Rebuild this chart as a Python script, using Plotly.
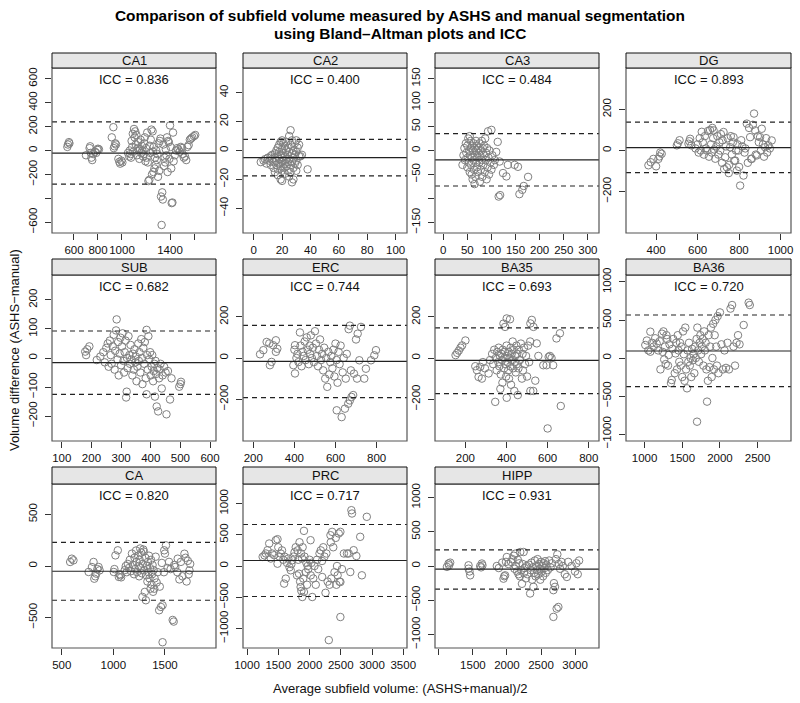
import plotly.graph_objects as go

# ---------------- data ----------------
panels = ["CA1", "CA2", "CA3", "DG", "SUB", "ERC", "BA35", "BA36", "CA", "PRC", "HIPP"]
icc_values = ["0.836", "0.400", "0.484", "0.893", "0.682", "0.744", "0.693", "0.720", "0.820", "0.717", "0.931"]
mean_diff = [-22, -4.9, -19.5, 14, -16, -16, -12, 92, -51, 88, -47]
upper_loa = [240, 7.7, 35, 138, 93, 158, 146, 566, 229, 664, 235]
lower_loa = [-281, -17.6, -74, -108, -125, -192, -173, -377, -332, -488, -339]

ca1_pts = [(545,30),(550,50),(558,70),(562,60),
 (700,-40),(730,20),(735,35),(740,-20),(745,-60),(752,-80),(760,-30),(775,-10),(785,-20),(795,5),(800,15),(808,10),
 (915,110),(928,195),(932,20),(938,35),(944,60),(950,50),
 (970,-70),(978,-95),(985,-110),(995,-85),(1003,-100),
 (1050,-20),(1060,-50),(1065,0),(1070,-30),(1075,-60),(1080,80),(1085,30),(1090,140),(1095,-10),(1100,180),(1105,110),
 (1110,160),(1115,50),(1120,130),(1125,-40),(1130,20),(1135,70),(1140,0),(1145,-70),(1150,10),(1155,90),(1160,-20),
 (1165,40),(1170,0),(1175,-50),(1180,-30),(1185,60),(1190,110),(1195,-90),(1200,20),(1205,-60),(1210,150),(1215,-100),
 (1220,-255),(1228,-245),(1230,40),(1235,-20),(1240,90),(1245,175),(1250,-200),(1255,160),(1258,-10),(1262,-180),
 (1265,30),(1270,-150),(1275,-60),(1280,-120),(1285,0),(1290,-80),(1295,-30),(1300,-220),(1305,60),(1310,-170),
 (1315,80),(1320,100),(1325,-385),(1330,-623),(1335,-350),(1340,-410),(1345,50),(1350,-130),(1355,-60),(1360,-100),
 (1365,10),(1370,-40),(1375,110),(1380,-180),(1385,80),(1390,70),(1395,-70),(1400,210),(1405,30),(1410,-150),
 (1414,-440),(1420,-435),(1425,150),(1430,-90),(1440,-40),(1450,0),(1460,20),(1470,10),(1480,-10),(1490,30),
 (1500,20),(1505,-30),(1515,-60),(1525,-50),(1535,-80),(1545,30),(1555,45),(1565,90),(1575,100),(1585,110),
 (1600,120),(1610,130)]

ca2_pts = [(5,-8),(7,-7),(8,-6),(9,-9),(10,-5),(11,-7),(12,-4),(12,-10),(13,-3),(13,-6),(14,-8),(14,-12),(15,-2),
 (15,-5),(15,-15),(16,0),(16,-7),(16,-10),(17,2),(17,-4),(17,-13),(17,-17),(18,4),(18,-1),(18,-6),(18,-9),(19,6),
 (19,-3),(19,-11),(19,-20),(20,7),(20,1),(20,-5),(20,-8),(20,-14),(20,-21),(21,5),(21,-2),(21,-7),(21,-12),(22,3),
 (22,-4),(22,-9),(22,-16),(23,6),(23,0),(23,-6),(23,-11),(24,2),(24,-3),(24,-8),(24,-14),(25,10),(25,-1),(25,-6),
 (25,-18),(26,14),(26,4),(26,-10),(26,-15),(27,7),(27,-2),(27,-8),(27,-22),(28,0),(28,-5),(28,-12),(28,-20),(29,5),
 (29,-3),(29,-9),(30,7),(30,-1),(30,-7),(30,-14),(31,2),(31,-10),(32,4),(32,-4),(33,-4),(34,-3),(38,-13)]

ca3_pts = [(40,-30),(42,-10),(44,5),(45,-20),(47,15),(48,-5),(50,10),(50,-35),(51,-15),(52,25),(53,-25),(54,0),
 (55,30),(55,-45),(56,-10),(57,20),(58,-30),(58,5),(59,-50),(60,-15),(60,10),(61,-60),(62,0),(63,-20),(63,15),
 (64,-40),(65,5),(65,-70),(66,-10),(67,-55),(68,20),(68,-25),(69,0),(70,-35),(70,10),(71,-15),(72,-45),(73,5),
 (74,-5),(75,-25),(75,15),(76,-65),(77,-10),(78,-40),(79,0),(80,20),(80,-20),(81,-55),(82,5),(83,-30),(84,-10),
 (85,10),(86,-45),(87,25),(88,-20),(89,-5),(90,-60),(91,5),(92,-35),(94,-15),(95,-50),(96,0),(98,-25),(100,-40),
 (102,-10),(105,-30),(107,-20),(93,40),(100,43),(110,-3),(113,18),(117,-23),(124,-47),(131,-54),(134,-30),
 (148,-30),(155,-34),(115,-96),(118,-93),(158,-91),(164,-82),(167,-74),(176,-55)]

dg_pts = [(363,-72),(374,-57),(387,-41),(400,-77),(411,-41),(416,-29),(427,-16),(420,-10),
 (500,25),(505,35),(513,50),(556,33),(560,45),(564,57),(570,25),
 (590,10),(600,30),(605,-10),(610,60),(615,0),(620,91),(625,40),(630,-20),(635,70),(640,10),(645,0),(650,95),
 (655,-30),(660,100),(665,30),(668,-10),(671,110),(675,60),(677,98),(680,5),(685,-40),(690,20),(695,70),(700,-20),
 (705,40),(709,0),(712,80),(718,-60),(720,50),(725,90),(728,-90),(733,-33),(736,20),(741,-82),(745,60),(750,-110),
 (752,-70),(757,16),(760,70),(765,-20),(770,40),(773,65),(776,-50),(781,-49),(785,0),(789,-98),(792,30),(797,0),
 (800,-80),(805,-171),(810,50),(815,20),(821,-122),(826,-10),(830,10),(837,131),(842,-60),(848,110),(853,65),
 (858,-40),(861,-41),(866,125),(872,180),(877,98),(880,-20),(885,-24),(890,70),(895,40),(901,65),(905,0),
 (909,106),(915,30),(920,-30),(925,16),(930,60),(935,-10),(941,25),(948,10),(957,49)]

sub_pts = [(179,22),(182,10),(186,30),(193,40),(218,-7),(230,5),(240,20),(245,-15),(250,35),(255,50),(258,-30),
 (262,60),(265,10),(268,-20),(272,40),(275,80),(278,-40),(280,25),(283,95),(285,133),(288,-5),(290,55),(292,-60),
 (295,15),(298,70),(300,-25),(303,40),(305,85),(308,-10),(310,-50),(312,20),(315,60),(317,-136),(319,-116),(320,0),
 (322,-35),(325,75),(328,10),(330,-20),(332,45),(335,-5),(338,-60),(340,15),(343,-40),(345,30),(348,-15),(350,5),
 (352,-80),(355,-30),(358,50),(360,-10),(362,20),(365,-50),(368,65),(370,0),(372,-90),(375,35),(378,-20),(380,55),
 (383,-70),(386,97),(386,-125),(388,10),(390,-40),(392,75),(395,-5),(398,20),(400,-60),(403,-30),(405,10),
 (408,-80),(410,-45),(412,-20),(414,-133),(416,-10),(418,-55),(420,-167),(422,-35),(425,-184),(428,-70),(430,-40),
 (433,-20),(437,-105),(440,-60),(445,-30),(450,-50),(453,-194),(458,-45),(465,-143),(470,-70),(496,-99),(500,-90),
 (502,-82)]

erc_pts = [(233,18),(249,38),(265,78),(278,71),(281,-35),(289,-19),(297,62),(310,86),(317,45),(310,30),
 (395,-35),(400,40),(403,62),(403,-75),(410,0),(415,20),(420,-20),(427,124),(430,60),(435,-40),(440,30),(445,10),
 (450,80),(455,-10),(460,100),(465,40),(470,-30),(475,60),(476,20),(480,110),(485,0),(490,50),(495,-20),(500,130),
 (505,70),(510,10),(515,-40),(520,40),(525,90),(530,-10),(535,20),(540,-60),(545,50),(550,-100),(555,0),(560,-140),
 (565,30),(570,-80),(575,-20),(580,10),(585,-50),(590,40),(595,-90),(600,70),(605,-10),(606,-254),(610,-120),
 (615,30),(620,-30),(625,60),(630,-287),(635,-70),(640,0),(646,-246),(650,-100),(655,20),(662,-222),(664,140),
 (670,157),(670,-206),(675,-60),(678,-189),(686,-180),(690,-76),(700,90),(705,-100),(708,118),(716,-11),(724,151),
 (740,-100),(748,-52),(773,-11),(789,13),(797,38)]

ba35_pts = [(152,14),(160,25),(168,36),(176,50),(184,61),(200,85),
 (248,-40),(256,-59),(264,-92),(272,-43),(280,-100),(285,-20),(295,-50),(313,-75),(320,-10),(330,20),(335,-30),
 (340,40),(345,-213),(348,0),(352,-60),(355,30),(360,-20),(362,50),(365,-40),(368,10),(370,-150),(372,-80),(375,20),
 (378,-10),(380,-120),(382,40),(385,167),(388,-50),(390,0),(392,30),(393,151),(395,-30),(398,-90),(400,60),
 (401,192),(401,-193),(403,10),(405,-20),(408,-60),(410,30),(412,-100),(415,0),(417,188),(418,-40),(420,50),
 (422,-130),(425,20),(428,-10),(430,80),(432,-50),(435,40),(438,-160),(440,-20),(442,10),(445,-70),(448,60),
 (450,-30),(452,20),(455,-180),(458,-50),(460,40),(465,-10),(470,70),(475,-100),(478,20),(480,-60),(485,50),
 (490,-30),(495,10),(500,-90),(505,60),(510,-20),(515,80),(516,168),(516,-160),(523,185),(530,-160),(531,151),
 (540,-110),(547,71),(555,10),(579,-35),(595,-35),(600,-342),(605,5),(611,10),(619,0),(627,-35),(643,95),
 (660,120),(664,-233)]

ba36_pts = [(1009,171),(1030,230),(1050,100),(1076,346),(1076,83),(1100,200),(1120,150),(1140,260),(1160,190),
 (1180,100),(1200,220),(1210,-150),(1230,320),(1240,80),(1250,350),(1260,-20),(1270,150),(1280,-80),(1290,300),
 (1300,250),(1310,-100),(1320,40),(1330,180),(1350,-330),(1360,-290),(1370,120),(1380,250),(1400,-200),(1410,60),
 (1420,200),(1430,-150),(1440,300),(1450,100),(1460,-50),(1470,200),(1480,-100),(1490,150),(1500,-250),(1510,350),
 (1520,50),(1530,-300),(1540,400),(1550,-150),(1563,-399),(1570,100),(1580,-50),(1590,200),(1600,-100),(1610,0),
 (1620,-250),(1630,120),(1640,-30),(1650,50),(1660,-200),(1670,150),(1680,0),(1690,250),(1696,-838),(1700,400),
 (1710,100),(1720,-50),(1730,200),(1740,300),(1750,50),(1760,150),(1770,250),(1780,-100),(1790,350),(1800,100),
 (1810,200),(1820,-150),(1829,-574),(1840,-300),(1850,300),(1860,-120),(1870,150),(1880,400),(1890,-250),(1900,0),
 (1910,450),(1920,-150),(1930,300),(1940,500),(1950,150),(1960,-100),(1970,550),(1980,-200),(2000,600),(2020,180),
 (2040,-150),(2060,100),(2080,-130),(2100,200),(2120,-150),(2140,650),(2161,697),(2180,150),(2200,-100),(2220,200),
 (2240,300),(2260,180),(2315,434),(2381,728),(2396,697)]

ca_pts = [(581,39),(597,71),(613,55),
 (760,-58),(792,-10),(808,39),(815,-123),(825,-100),(834,-74),(845,-30),(857,-10),(867,-42),
 (1004,-58),(1010,-30),(1020,103),(1043,152),(1053,-106),(1060,-80),(1069,-90),(1075,-110),
 (1110,-40),(1120,0),(1130,-60),(1140,20),(1150,-20),(1160,60),(1170,-50),(1180,120),(1190,10),(1200,-80),
 (1205,80),(1210,-30),(1220,150),(1225,40),(1230,-60),(1240,100),(1245,0),(1250,-100),(1255,60),(1260,170),
 (1265,-20),(1270,130),(1275,-70),(1282,-300),(1285,20),(1290,160),(1295,140),(1300,-40),(1305,-251),(1310,80),
 (1315,-332),(1320,-90),(1325,0),(1330,-150),(1335,40),(1340,-60),(1345,100),(1350,-120),(1355,-20),(1360,-220),
 (1365,60),(1370,-180),(1375,-80),(1380,10),(1385,-250),(1390,-40),(1396,-220),(1400,-120),(1410,90),(1420,-160),
 (1430,-60),(1444,-429),(1450,-200),(1461,-397),(1470,30),(1477,-381),(1477,-739),(1490,-60),(1493,152),
 (1500,120),(1510,200),(1525,-20),(1540,40),(1555,-30),(1575,-523),(1585,-539),(1590,10),(1600,-10),(1620,-60),
 (1624,71),(1640,-130),(1655,40),(1670,-100),(1689,119),(1700,80),(1710,-150),(1722,50),(1730,-80),(1738,-42),
 (1745,20)]

prc_pts = [(1250,146),(1280,170),(1302,200),(1329,253),(1355,360),(1380,120),(1400,200),(1435,173),(1461,413),
 (1488,429),(1488,37),(1500,300),(1520,150),(1540,200),(1560,250),(1580,100),(1594,-282),(1600,150),(1620,-202),
 (1640,50),(1660,120),(1680,-20),(1700,-69),(1710,30),(1726,93),(1740,150),(1760,220),(1780,300),(1800,-150),
 (1810,250),(1820,100),(1832,-123),(1840,380),(1850,-250),(1858,-336),(1865,200),(1870,-400),(1880,120),
 (1885,-496),(1890,300),(1900,-200),(1911,562),(1911,-416),(1920,150),(1940,-100),(1950,50),(1960,-300),(1970,0),
 (1980,-50),(2000,100),(2017,413),(2020,-150),(2030,50),(2044,-496),(2060,-200),(2080,0),(2100,-300),(2120,100),
 (2140,-50),(2160,200),(2180,250),(2200,80),(2203,-176),(2220,300),(2240,150),(2256,-429),(2270,200),(2290,-250),
 (2309,-1186),(2320,-300),(2335,493),(2340,380),(2350,-200),(2362,546),(2380,300),(2400,-100),(2420,450),
 (2430,-300),(2440,0),(2450,-150),(2468,520),(2480,-250),(2494,546),(2494,-256),(2494,-816),(2520,-50),(2550,200),
 (2600,200),(2627,200),(2653,-96),(2670,893),(2680,840),(2706,253),(2750,160),(2811,467),(2838,-149),(2917,787)]

hipp_pts = [(1118,-13),(1142,36),(1166,49),(1150,10),
 (1436,-39),(1436,10),(1450,-80),(1460,-136),
 (1607,0),(1620,-20),(1631,36),(1640,10),
 (1851,0),(1880,-30),(1930,50),(1949,-185),(1960,-150),(1973,-136),(1985,60),(1998,131),(2020,30),
 (2060,60),(2080,100),(2100,150),(2110,-40),(2120,180),(2130,0),(2150,-80),(2160,90),(2170,-120),(2180,40),
 (2190,-150),(2196,204),(2210,-60),(2220,-260),(2230,30),(2245,204),(2250,-100),(2260,-30),(2280,-180),(2290,0),
 (2300,-120),(2320,20),(2340,-401),(2350,-60),(2360,50),(2370,-200),(2380,-20),(2389,-304),(2400,-100),(2410,80),
 (2420,-150),(2430,0),(2440,-60),(2450,100),(2460,-120),(2470,30),(2480,-40),(2490,-200),(2500,60),(2510,-80),
 (2520,0),(2530,-150),(2540,40),(2550,-30),(2560,70),(2570,-100),(2580,20),(2600,-60),(2620,80),(2640,-20),
 (2660,40),(2682,-743),(2682,-353),(2690,-250),(2706,-304),(2720,100),(2730,-622),(2740,170),(2755,-598),
 (2760,30),(2780,-40),(2800,60),(2820,0),(2850,-120),(2880,-160),(2900,60),(2950,0),(3000,-80),(3020,40),
 (3040,-120),(3060,80)]

all_points = [ca1_pts, ca2_pts, ca3_pts, dg_pts, sub_pts, erc_pts, ba35_pts, ba36_pts, ca_pts, prc_pts, hipp_pts]

# axis tick values / labels
x_ticks = [[600, 800, 1000, 1200, 1400, 1600], [0, 20, 40, 60, 80, 100], [0, 50, 100, 150, 200, 250, 300],
           [400, 600, 800, 1000], [100, 200, 300, 400, 500, 600], [200, 400, 600, 800], [200, 400, 600, 800],
           [1000, 1500, 2000, 2500], [500, 1000, 1500], [1000, 1500, 2000, 2500, 3000, 3500],
           [1000, 1500, 2000, 2500, 3000]]
x_labels = [["600", "800", "1000", "", "1400", ""], None, None, None, None, None, None, None, None, None,
            ["", "1500", "2000", "2500", "3000"]]
y_ticks = [[-600, -400, -200, 0, 200, 400, 600], [-40, -20, 0, 20, 40], [-150, -100, -50, 0, 50, 100, 150],
           [-200, 0, 200], [-200, -100, 0, 100, 200], [-200, 0, 200], [-200, 0, 200],
           [-1000, -500, 0, 500, 1000], [-500, 0, 500], [-1000, -500, 0, 500, 1000], [-1000, -500, 0, 500, 1000]]
y_labels = [["-600", "", "-200", "0", "200", "400", "600"], None, ["-150", "", "-50", "0", "50", "100", "150"],
            None, None, None, None, None, None, None, None]

x_ranges = [[417, 1783], [-7.5, 108], [-17, 323], [255, 1050], [67, 620], [150, 948], [52, 850], [753, 2943],
            [405, 1995], [936, 3560], [943, 3352]]
y_ranges = [[-690, 690], [-57, 57], [-172, 172], [-402, 402], [-286, 286], [-403, 403], [-403, 403],
            [-1092, 1092], [-795, 795], [-1312, 1312], [-1197, 1197]]

# ---------------- layout geometry (pixels) ----------------
W, H = 800, 703
col_px = [(52, 216), (243, 407), (435, 599), (626, 791)]
row_px = [(68, 233), (275, 441), (484, 648)]
strip_px = [(53, 68), (259, 275), (467, 484)]
FONT = "Liberation Sans, Arial, Helvetica, sans-serif"

def px(v):
    return v / W

def py(v):
    return 1 - v / H

fig = go.Figure()
shapes = []
annotations = []
layout = {}

for i, name in enumerate(panels):
    r, c = divmod(i, 4)
    n = "" if i == 0 else str(i + 1)
    xa, ya = "x" + n, "y" + n
    pts = all_points[i]
    fig.add_trace(go.Scatter(
        x=[p[0] for p in pts], y=[p[1] for p in pts], mode="markers",
        xaxis=xa, yaxis=ya, showlegend=False, hoverinfo="skip", cliponaxis=True,
        marker=dict(symbol="circle-open", size=7.5, color="#808080", line=dict(width=1, color="#808080"))))

    x0, x1 = col_px[c]
    y0, y1 = row_px[r]
    s0, s1 = strip_px[r]
    xt = x_ticks[i]
    xl = x_labels[i] if x_labels[i] is not None else [str(v) for v in xt]
    yt = y_ticks[i]
    yl = y_labels[i] if y_labels[i] is not None else [str(v) for v in yt]
    yl = [s.replace("-", "\u2212") for s in yl]
    common = dict(showgrid=False, zeroline=False, showline=False, ticks="outside", ticklen=6,
                  tickcolor="#333333", tickwidth=1, automargin=False,
                  tickfont=dict(family=FONT, size=11.5, color="#111111"))
    layout["xaxis" + n] = dict(domain=[px(x0), px(x1)], range=x_ranges[i], anchor=ya, tickangle=0,
                               tickmode="array", tickvals=xt, ticktext=xl, **common)
    layout["yaxis" + n] = dict(domain=[py(y1), py(y0)], range=y_ranges[i], anchor=xa,
                               tickmode="array", tickvals=yt, ticktext=yl, tickangle=-90,
                               ticklabelstandoff=3, **common)

    # reference lines
    for val, dash in ((mean_diff[i], "solid"), (upper_loa[i], "5px,4px"), (lower_loa[i], "5px,4px")):
        shapes.append(dict(type="line", xref=xa + " domain", x0=0, x1=1, yref=ya, y0=val, y1=val,
                           line=dict(color="#222222", width=1.2, dash=dash)))
    # panel box
    shapes.append(dict(type="rect", xref="paper", yref="paper", x0=px(x0), x1=px(x1), y0=py(y1), y1=py(y0),
                       line=dict(color="#555555", width=1.2), fillcolor="rgba(0,0,0,0)"))
    # strip
    shapes.append(dict(type="rect", xref="paper", yref="paper", x0=px(x0), x1=px(x1), y0=py(s1), y1=py(s0),
                       line=dict(color="#111111", width=1), fillcolor="#e6e6e6"))
    annotations.append(dict(text=name, xref="paper", yref="paper", x=px((x0 + x1) / 2), y=py((s0 + s1) / 2),
                            showarrow=False, xanchor="center", yanchor="middle",
                            font=dict(family=FONT, size=13, color="#111111")))
    annotations.append(dict(text="ICC = " + icc_values[i], xref="paper", yref="paper",
                            x=px((x0 + x1) / 2), y=py(s1 + 11.5), showarrow=False,
                            xanchor="center", yanchor="middle",
                            font=dict(family=FONT, size=13, color="#111111")))

annotations.append(dict(text="<b>Comparison of subfield volume measured by ASHS and manual segmentation</b>",
                        xref="paper", yref="paper", x=0.5, y=py(16), showarrow=False,
                        xanchor="center", yanchor="middle", font=dict(family=FONT, size=15.4, color="#000")))
annotations.append(dict(text="<b>using Bland\u2013Altman plots and ICC</b>",
                        xref="paper", yref="paper", x=0.5, y=py(34), showarrow=False,
                        xanchor="center", yanchor="middle", font=dict(family=FONT, size=15.4, color="#000")))
annotations.append(dict(text="Average subfield volume: (ASHS+manual)/2", xref="paper", yref="paper",
                        x=px(400), y=py(688), showarrow=False, xanchor="center", yanchor="middle",
                        font=dict(family=FONT, size=13, color="#111111")))
annotations.append(dict(text="Volume difference (ASHS\u2212manual)", xref="paper", yref="paper",
                        x=px(14), y=py(350), showarrow=False, xanchor="center", yanchor="middle",
                        textangle=-90, font=dict(family=FONT, size=13, color="#111111")))

fig.update_layout(width=W, height=H, margin=dict(l=0, r=0, t=0, b=0), paper_bgcolor="white",
                  plot_bgcolor="white", shapes=shapes, annotations=annotations, **layout)

fig.write_html("out.html", config={"displayModeBar": False},
               post_script="document.body.style.margin='0px';document.body.style.overflow='hidden';")
